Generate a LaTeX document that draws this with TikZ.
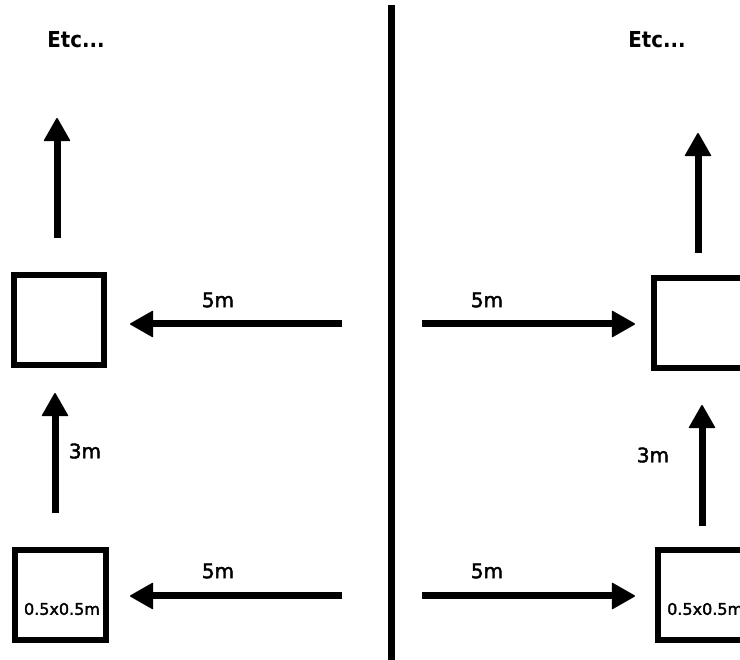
\documentclass[tikz,border=0pt]{standalone}
\usepackage{fontspec}
\setmainfont{DejaVu Sans}
\newfontfamily\etcfont[FakeStretch=0.9]{DejaVu Sans}
\newfontfamily\lblfont[FakeBold=2]{DejaVu Sans}
\usetikzlibrary{arrows.meta}
\tikzset{
  cell/.style={draw=black, line width=6pt, fill=white},
  mover/.style={line width=7pt, -{Triangle[length=24pt,width=27pt,line width=1.5pt,round]}},
  dist/.style={font=\lblfont\fontsize{20pt}{24pt}\selectfont, inner sep=0pt, text=black},
  etc/.style={font=\etcfont\bfseries\fontsize{22pt}{26pt}\selectfont, inner sep=0pt},
  size/.style={font=\lblfont\fontsize{16pt}{19pt}\selectfont, inner sep=0pt},
  divider/.style={line width=7pt}
}
\begin{document}
\begin{tikzpicture}[x=1pt,y=-1pt]
\useasboundingbox (0,0) rectangle (740,660);
% divider
\coordinate (dtop) at (391,5);
\coordinate (dbot) at (391,662);
\draw[divider] (dtop) -- (dbot);

% left column boxes
\draw[cell] (14,275) rectangle (104,365);
\draw[cell] (15,550) rectangle (106,640);
\node[size] (lsz) at (62,609) {0.5x0.5m};
% right column boxes
\draw[cell] (654,278) rectangle (744,368);
\draw[cell] (658,550) rectangle (748,640);
\node[size, anchor=west] (rsz) at (667,609) {0.5x0.5m};

% texts
\node[etc] (letc) at (76,40) {Etc...};
\node[etc] (retc) at (657,40) {Etc...};
\node[dist] (l5a) at (218,300) {5m};
\node[dist] (l5b) at (218,571) {5m};
\node[dist] (r5a) at (487,300) {5m};
\node[dist] (r5b) at (487,571) {5m};
\node[dist] (l3) at (85,451) {3m};
\node[dist] (r3) at (653,455) {3m};

% arrow end points
\coordinate (lu1) at (57,238);   \coordinate (lu2) at (57,118);
\coordinate (l31) at (55,513);   \coordinate (l32) at (55,393);
\coordinate (la1) at (342,324);  \coordinate (la2) at (130,324);
\coordinate (lb1) at (342,596);  \coordinate (lb2) at (130,596);
\coordinate (ra1) at (422,324);  \coordinate (ra2) at (635,324);
\coordinate (rb1) at (422,596);  \coordinate (rb2) at (635,596);
\coordinate (ru1) at (698,253);  \coordinate (ru2) at (698,133);
\coordinate (r31) at (702,526);  \coordinate (r32) at (702,405);

\draw[mover] (lu1) -- (lu2);
\draw[mover] (l31) -- (l32);
\draw[mover] (la1) -- (la2);
\draw[mover] (lb1) -- (lb2);
\draw[mover] (ra1) -- (ra2);
\draw[mover] (rb1) -- (rb2);
\draw[mover] (ru1) -- (ru2);
\draw[mover] (r31) -- (r32);
\end{tikzpicture}
\end{document}
